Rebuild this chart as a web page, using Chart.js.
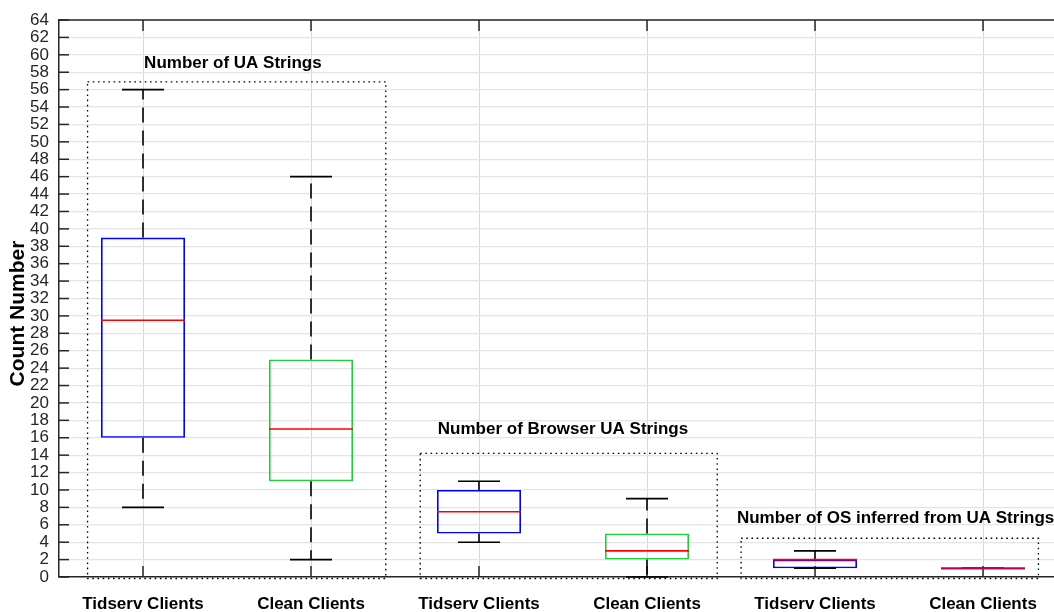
<!DOCTYPE html>
<html>
<head>
<meta charset="utf-8">
<script src="https://cdn.jsdelivr.net/npm/chart.js@4/dist/chart.umd.min.js"></script>
<style>
  html, body { margin: 0; padding: 0; overflow: hidden; background: #fff; }
</style>
</head>
<body>
<canvas id="myChart" width="1080" height="612"></canvas>
<script>
// box plot statistics
var categories   = ['Tidserv Clients', 'Clean Clients', 'Tidserv Clients', 'Clean Clients', 'Tidserv Clients', 'Clean Clients'];
var whiskerLow   = [8,    2,  4,   0, 1, 1];
var quartileLow  = [16,  11,  5,   2, 1, 1];
var medians      = [29.5, 17, 7.5, 3, 2, 1];
var quartileHigh = [39,  25, 10,   5, 2, 1];
var whiskerHigh  = [56,  46, 11,   9, 3, 1];
var groupTitles  = ['Number of UA Strings', 'Number of Browser UA Strings', 'Number of OS inferred from UA Strings'];
var yTickValues  = [];
for (var t = 0; t <= 64; t += 2) yTickValues.push(t);

var FONT = "'Liberation Sans', Arial, sans-serif";
var boxColors = ['#0000ff', '#1ed03a', '#0000ff', '#1ed03a', '#0000ff', '#1ed03a'];

// dotted annotation frames, in axis units (category index / count)
var frames = [
  {x0: -0.33, x1: 1.445, top: 56.9, tx: 0.535, ty: 58.5, title: groupTitles[0]},
  {x0: 1.65,  x1: 3.418, top: 14.2, tx: 2.5,   ty: 16.4, title: groupTitles[1]},
  {x0: 3.56,  x1: 5.33,  top: 4.45, tx: 4.48,  ty: 6.15, title: groupTitles[2]}
];

function xAt(scale, v) {
  // fractional category position
  var a = scale.getPixelForValue(0), b = scale.getPixelForValue(1);
  return a + (b - a) * v;
}

var boxPlot = {
  id: 'boxPlot',
  afterDatasetsDraw: function(chart) {
    var ctx = chart.ctx, x = chart.scales.x, y = chart.scales.y;
    var area = chart.chartArea;
    var bars = chart.getDatasetMeta(0).data;
    ctx.save();

    // top frame line and inward tick marks
    ctx.strokeStyle = '#262626';
    ctx.lineWidth = 1.5;
    ctx.beginPath();
    ctx.moveTo(area.left, area.top);
    ctx.lineTo(area.right, area.top);
    ctx.stroke();
    yTickValues.forEach(function(v) {
      var py = y.getPixelForValue(v);
      ctx.beginPath();
      ctx.moveTo(area.left, py);
      ctx.lineTo(area.left + 10, py);
      ctx.stroke();
    });
    categories.forEach(function(c, i) {
      var px = x.getPixelForValue(i);
      ctx.beginPath();
      ctx.moveTo(px, area.bottom);
      ctx.lineTo(px, area.bottom - 11);
      ctx.moveTo(px, area.top);
      ctx.lineTo(px, area.top + 11);
      ctx.stroke();
    });

    // whiskers and caps
    bars.forEach(function(bar, i) {
      var cx = x.getPixelForValue(i);
      var capHalf = bar.width / 4;
      ctx.strokeStyle = '#000';
      ctx.lineWidth = 1.6;
      ctx.setLineDash([15, 8]);
      [[quartileHigh[i], whiskerHigh[i]], [quartileLow[i], whiskerLow[i]]].forEach(function(seg) {
        if (seg[0] === seg[1]) return;
        ctx.beginPath();
        ctx.moveTo(cx, y.getPixelForValue(seg[0]));
        ctx.lineTo(cx, y.getPixelForValue(seg[1]));
        ctx.stroke();
      });
      ctx.setLineDash([]);
      [whiskerHigh[i], whiskerLow[i]].forEach(function(v) {
        var py = y.getPixelForValue(v);
        ctx.beginPath();
        ctx.moveTo(cx - capHalf, py);
        ctx.lineTo(cx + capHalf, py);
        ctx.stroke();
      });
      // median
      var pm = y.getPixelForValue(medians[i]);
      var half = bar.width / 2;
      ctx.strokeStyle = quartileLow[i] === quartileHigh[i] ? '#b20a50' : '#ff0000';
      ctx.lineWidth = quartileLow[i] === quartileHigh[i] ? 2.2 : 1.6;
      ctx.beginPath();
      ctx.moveTo(cx - half, pm);
      ctx.lineTo(cx + half, pm);
      ctx.stroke();
    });

    // group frames and titles
    ctx.strokeStyle = '#000';
    ctx.lineWidth = 1.3;
    ctx.setLineDash([1.6, 3.6]);
    frames.forEach(function(f) {
      var l = xAt(x, f.x0), r = xAt(x, f.x1);
      var t = y.getPixelForValue(f.top), b = y.getPixelForValue(0) + 1.5;
      ctx.beginPath();
      ctx.rect(l, t, r - l, b - t);
      ctx.stroke();
    });
    ctx.setLineDash([]);
    ctx.fillStyle = '#000';
    ctx.font = 'bold 17px ' + FONT;
    ctx.textAlign = 'center';
    ctx.textBaseline = 'alphabetic';
    frames.forEach(function(f) {
      ctx.fillText(f.title, xAt(x, f.tx), y.getPixelForValue(f.ty));
    });

    // y axis title
    ctx.font = 'bold 21px ' + FONT;
    ctx.translate(18.5, (area.top + area.bottom) / 2 + 15);
    ctx.rotate(-Math.PI / 2);
    ctx.textBaseline = 'middle';
    ctx.fillText('Count Number', 0, 0);
    ctx.restore();
  }
};

new Chart('myChart', {
  type: 'bar',
  data: {
    labels: categories,
    datasets: [{
      data: quartileLow.map(function(q, i) { return [q, quartileHigh[i]]; }),
      backgroundColor: 'rgba(0,0,0,0)',
      borderColor: boxColors,
      borderWidth: 1.6,
      borderSkipped: false,
      barPercentage: 0.5,
      categoryPercentage: 1
    }]
  },
  options: {
    responsive: false,
    animation: false,
    layout: { padding: { top: 20, right: 13, left: 0, bottom: 0 } },
    plugins: {
      legend: { display: false },
      tooltip: { enabled: false }
    },
    scales: {
      x: {
        offset: true,
        grid: { offset: false, color: '#d8d8d8', lineWidth: 1, drawTicks: false },
        border: { color: '#262626', width: 1.5 },
        ticks: {
          color: '#000',
          padding: 17,
          maxRotation: 0,
          autoSkip: false,
          font: { family: FONT, size: 17, weight: 'bold' }
        },
        afterFit: function(s) {
          s.height = 35;
          s.paddingLeft = 0; s.paddingRight = 0;
        }
      },
      y: {
        min: 0,
        max: 64,
        grid: { color: '#e4e4e4', lineWidth: 1.2, drawTicks: false },
        border: { color: '#262626', width: 1.5 },
        ticks: {
          stepSize: 2,
          autoSkip: false,
          maxTicksLimit: 40,
          padding: 10,
          color: '#262626',
          font: { family: FONT, size: 17, lineHeight: 1 }
        },
        afterFit: function(s) {
          s.width = 59;
          s.paddingTop = 0; s.paddingBottom = 0;
        }
      }
    }
  },
  plugins: [boxPlot]
});
</script>
</body>
</html>
